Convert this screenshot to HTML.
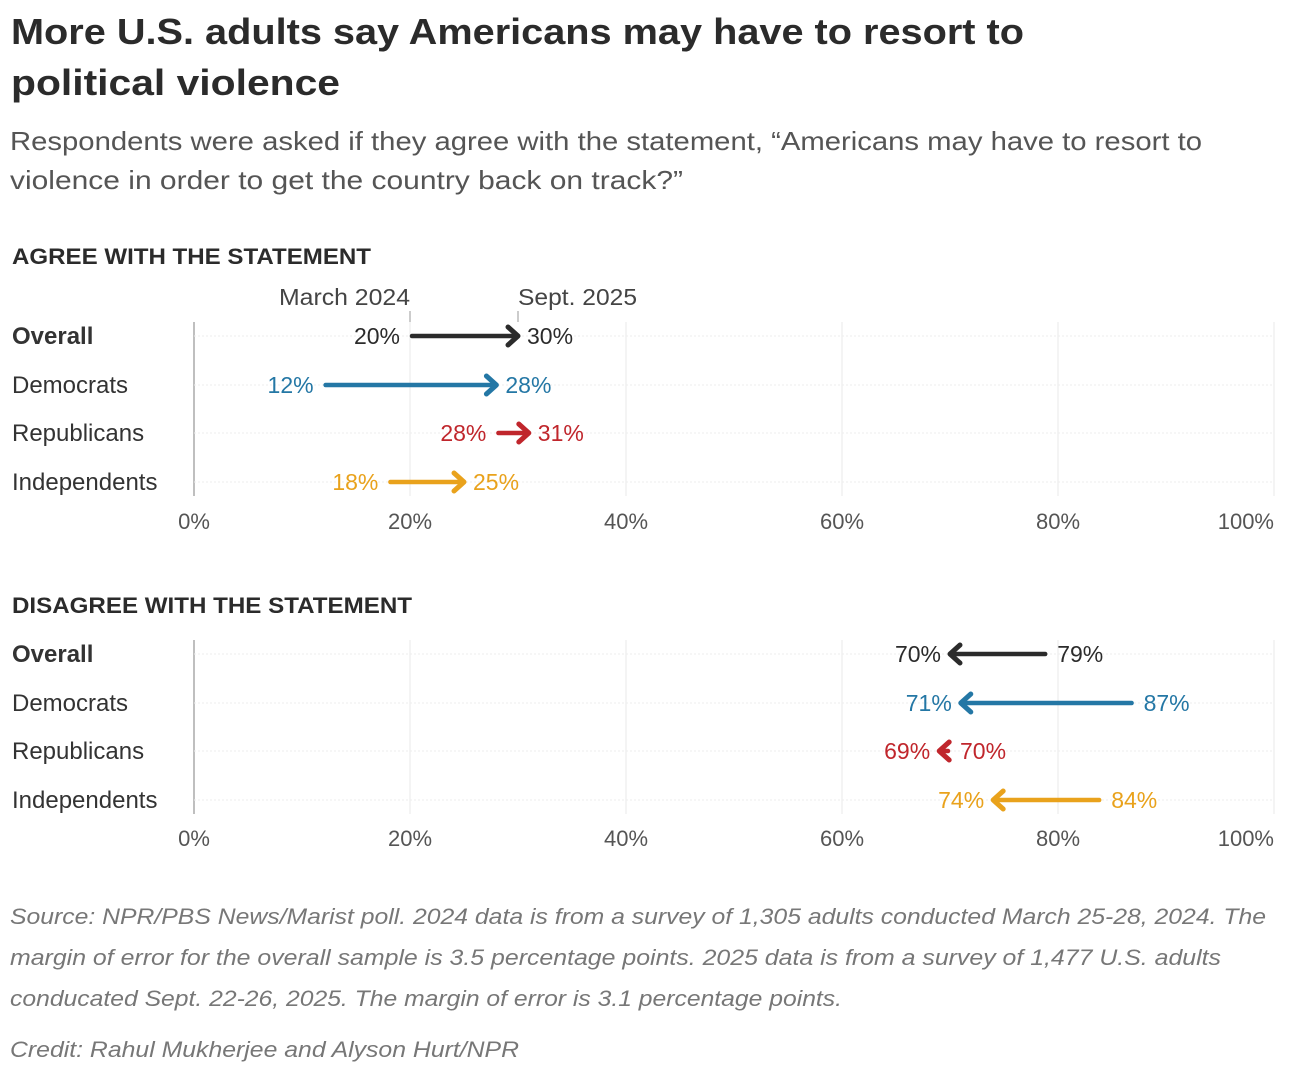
<!DOCTYPE html>
<html><head><meta charset="utf-8"><style>
html,body{margin:0;padding:0;background:#fff;}
svg{display:block;font-family:"Liberation Sans",sans-serif;}
</style></head><body>
<svg id="chart" width="1290" height="1076" viewBox="0 0 1290 1076">
<text x="11" y="44" font-size="36" font-weight="bold" fill="#2b2b2b" textLength="1013" lengthAdjust="spacingAndGlyphs">More U.S. adults say Americans may have to resort to</text>
<text x="11" y="95" font-size="36" font-weight="bold" fill="#2b2b2b" textLength="329" lengthAdjust="spacingAndGlyphs">political violence</text>
<text x="10" y="150" font-size="26" fill="#555" textLength="1192" lengthAdjust="spacingAndGlyphs">Respondents were asked if they agree with the statement, “Americans may have to resort to</text>
<text x="10" y="189" font-size="26" fill="#555" textLength="673" lengthAdjust="spacingAndGlyphs">violence in order to get the country back on track?”</text>
<text x="12" y="264" font-size="22" font-weight="bold" fill="#2b2b2b" textLength="359" lengthAdjust="spacingAndGlyphs">AGREE WITH THE STATEMENT</text>
<text x="12" y="613" font-size="22" font-weight="bold" fill="#2b2b2b" textLength="400" lengthAdjust="spacingAndGlyphs">DISAGREE WITH THE STATEMENT</text>
<text x="279" y="305" font-size="23" fill="#444" textLength="131" lengthAdjust="spacingAndGlyphs">March 2024</text>
<line x1="410" y1="311" x2="410" y2="322" stroke="#999" stroke-width="1"/>
<text x="518" y="305" font-size="23" fill="#444" textLength="119" lengthAdjust="spacingAndGlyphs">Sept. 2025</text>
<line x1="518" y1="311" x2="518" y2="322" stroke="#999" stroke-width="1"/>
<g id="footer">
<text x="10" y="924" font-size="22" font-style="italic" fill="#777" textLength="1256" lengthAdjust="spacingAndGlyphs">Source: NPR/PBS News/Marist poll. 2024 data is from a survey of 1,305 adults conducted March 25-28, 2024. The</text>
<text x="10" y="965" font-size="22" font-style="italic" fill="#777" textLength="1211" lengthAdjust="spacingAndGlyphs">margin of error for the overall sample is 3.5 percentage points. 2025 data is from a survey of 1,477 U.S. adults</text>
<text x="10" y="1006" font-size="22" font-style="italic" fill="#777" textLength="832" lengthAdjust="spacingAndGlyphs">conducated Sept. 22-26, 2025. The margin of error is 3.1 percentage points.</text>
<text x="10" y="1057" font-size="22" font-style="italic" fill="#777" textLength="509" lengthAdjust="spacingAndGlyphs">Credit: Rahul Mukherjee and Alyson Hurt/NPR</text>
</g>
</svg>
<script>
const groups = ["Overall", "Democrats", "Republicans", "Independents"];
const colors = ["#2b2b2b", "#2477a5", "#c0262c", "#e9a21c"];
const agree2024 = [20, 12, 28, 18];
const agree2025 = [30, 28, 31, 25];
const disagree2024 = [79, 87, 70, 84];
const disagree2025 = [70, 71, 69, 74];
const ticks = [0, 20, 40, 60, 80, 100];

const NS = "http://www.w3.org/2000/svg";
const svg = document.getElementById("chart");
const x = v => 194 + v * 10.8;
function mk(tag, attrs, parent) {
  const e = document.createElementNS(NS, tag);
  for (const k in attrs) e.setAttribute(k, attrs[k]);
  (parent || svg).appendChild(e);
  return e;
}
function panel(name, rowY, axisY, from, to) {
  const g = mk("g", {});
  
  
  const top = rowY[0] - 14, bot = rowY[3] + 14;
  ticks.forEach(t => {
    const l = mk("line", {x1: x(t), x2: x(t), y1: top, y2: bot, stroke: t === 0 ? "#aaa" : "#e8e8e8", "stroke-width": t === 0 ? 1.5 : 1}, g);
    
    
    const tx = mk("text", {x: x(t), y: axisY, "font-size": 22, fill: "#555", "text-anchor": t === 100 ? "end" : "middle"}, g);
    tx.textContent = t + "%";
    
    
  });
  groups.forEach((grp, i) => {
    const y = rowY[i];
    const rl = mk("line", {x1: x(0), x2: x(100), y1: y, y2: y, stroke: "#eee", "stroke-width": 1, "stroke-dasharray": "2,2"}, g);
    
    
    const lab = mk("text", {x: 12, y: y + 8, "font-size": 24, fill: "#333", "font-weight": i === 0 ? "bold" : "normal"}, g);
    lab.textContent = grp;
    
    
    const a = from[i], b = to[i], c = colors[i];
    const dir = b >= a ? 1 : -1;
    const x0 = x(a) + dir * 2, x1 = x(b);
    const shaft = mk("line", {x1: x0, x2: x1 - dir * 3, y1: y, y2: y, stroke: c, "stroke-width": 4.5, "stroke-linecap": "round"}, g);
    
    
    const head = mk("path", {d: `M${x1 - dir * 10},${y - 9} L${x1},${y} L${x1 - dir * 10},${y + 9}`, stroke: c, "stroke-width": 5, fill: "none", "stroke-linecap": "round", "stroke-linejoin": "round"}, g);
    
    
    const s = mk("text", {x: x(a) - dir * 10, y: y + 8, "font-size": 23, fill: c, "text-anchor": dir > 0 ? "end" : "start"}, g);
    s.textContent = a + "%";
    
    
    const e = mk("text", {x: x(b) + dir * 9, y: y + 8, "font-size": 23, fill: c, "text-anchor": dir > 0 ? "start" : "end"}, g);
    e.textContent = b + "%";
    
    
  });
}
panel("agree", [336, 385, 433, 482], 529, agree2024, agree2025);
panel("disagree", [654, 703, 751, 800], 846, disagree2024, disagree2025);
</script>
</body></html>
